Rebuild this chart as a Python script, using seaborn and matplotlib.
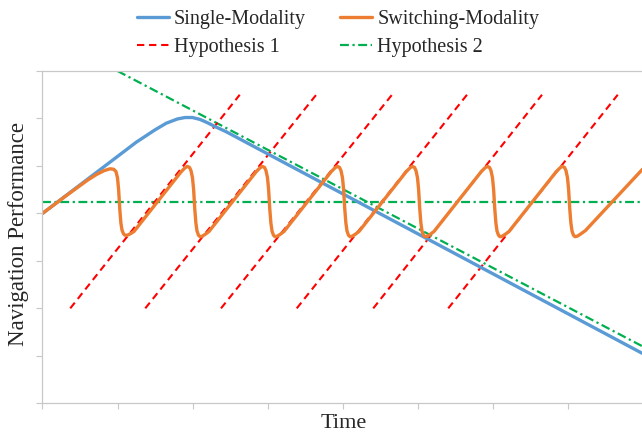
import pandas as pd
import matplotlib.pyplot as plt
import seaborn as sns
from matplotlib.lines import Line2D

# Single-Modality
single_x = [0.0, 0.25, 0.5, 0.75, 1.0, 1.25, 1.5, 1.65, 1.8, 1.9, 2.0, 2.1, 2.2, 2.3, 2.45, 8.0]
single_y = [4.0, 4.3, 4.6, 4.9, 5.2, 5.5, 5.76, 5.9, 5.99, 6.02, 6.02, 5.98, 5.91, 5.83, 5.72, 1.05]

# Switching-Modality sawtooth
switch_x = [0.0, 0.33, 0.6, 0.72, 0.82, 0.9, 0.95, 0.98, 1.0, 1.015, 1.03, 1.045, 1.06, 1.08, 1.1, 1.13, 1.17, 1.22,
            1.85, 1.9, 1.93, 1.96, 1.98, 2.0, 2.015, 2.03, 2.045, 2.06, 2.08, 2.1, 2.13, 2.17, 2.22,
            2.85, 2.9, 2.93, 2.96, 2.98, 3.0, 3.015, 3.03, 3.045, 3.06, 3.08, 3.1, 3.13, 3.17, 3.22,
            3.85, 3.9, 3.93, 3.96, 3.98, 4.0, 4.015, 4.03, 4.045, 4.06, 4.08, 4.1, 4.13, 4.17, 4.22,
            4.85, 4.9, 4.93, 4.96, 4.98, 5.0, 5.015, 5.03, 5.045, 5.06, 5.08, 5.1, 5.13, 5.17, 5.22,
            5.85, 5.9, 5.93, 5.96, 5.98, 6.0, 6.015, 6.03, 6.045, 6.06, 6.08, 6.1, 6.13, 6.17, 6.22,
            6.85, 6.9, 6.93, 6.96, 6.98, 7.0, 7.015, 7.03, 7.045, 7.06, 7.08, 7.1, 7.13, 7.17, 7.24,
            8.0]
switch_y = [4.0, 4.39, 4.7, 4.82, 4.9, 4.94, 4.93, 4.88, 4.75, 4.5, 4.1, 3.8, 3.65, 3.57, 3.54, 3.54, 3.57, 3.62,
            4.88, 4.96, 4.99, 4.97, 4.9, 4.75, 4.5, 4.1, 3.8, 3.63, 3.54, 3.51, 3.52, 3.56, 3.62,
            4.88, 4.96, 4.99, 4.97, 4.9, 4.75, 4.5, 4.1, 3.8, 3.63, 3.54, 3.51, 3.52, 3.56, 3.62,
            4.88, 4.96, 4.99, 4.97, 4.9, 4.75, 4.5, 4.1, 3.8, 3.63, 3.54, 3.51, 3.52, 3.56, 3.62,
            4.88, 4.96, 4.99, 4.97, 4.9, 4.75, 4.5, 4.1, 3.8, 3.63, 3.54, 3.51, 3.52, 3.56, 3.62,
            4.88, 4.96, 4.99, 4.97, 4.9, 4.75, 4.5, 4.1, 3.8, 3.63, 3.54, 3.51, 3.52, 3.56, 3.62,
            4.88, 4.96, 4.99, 4.97, 4.9, 4.75, 4.5, 4.1, 3.8, 3.63, 3.54, 3.51, 3.52, 3.56, 3.64,
            4.93]

# Hypothesis 1: parallel red dashed segments
hyp1_start_x = [0.37, 1.37, 2.38, 3.39, 4.41, 5.41]
hyp1_end_x = [2.63, 3.65, 4.66, 5.66, 6.66, 7.67]
hyp1_y = [2.0, 6.5]

# Hypothesis 2: flat line and declining line
hyp2_flat_x = [0.0, 8.0]
hyp2_flat_y = [4.25, 4.25]
hyp2_diag_x = [1.0, 8.0]
hyp2_diag_y = [7.0, 1.2]

sns.set_style("white")
plt.rcParams['font.family'] = ['Liberation Serif', 'DejaVu Serif']

df_single = pd.DataFrame({'x': single_x, 'y': single_y})
df_switch = pd.DataFrame({'x': switch_x, 'y': switch_y})
rows = []
for i, (a, b) in enumerate(zip(hyp1_start_x, hyp1_end_x)):
    rows.append({'line': i, 'x': a, 'y': hyp1_y[0]})
    rows.append({'line': i, 'x': b, 'y': hyp1_y[1]})
df_h1 = pd.DataFrame(rows)
df_h2 = pd.DataFrame({'line': [0, 0, 1, 1],
                      'x': hyp2_flat_x + hyp2_diag_x,
                      'y': hyp2_flat_y + hyp2_diag_y})

fig = plt.figure(figsize=(6.42, 4.37), dpi=100)
ax = fig.add_axes([42.5 / 642, 33.7 / 437, 600 / 642, 332.3 / 437])

red_ls = (0, (3.5, 2.3))
green_ls = (0, (4, 1.6, 1, 1.6))

sns.lineplot(data=df_h2, x='x', y='y', units='line', estimator=None, sort=False,
             color='#00B050', lw=1.6, linestyle=green_ls, ax=ax)
sns.lineplot(data=df_h1, x='x', y='y', units='line', estimator=None, sort=False,
             color='#FF0000', lw=1.5, linestyle=red_ls, ax=ax)
sns.lineplot(data=df_single, x='x', y='y', estimator=None, sort=False,
             color='#5B9BD5', lw=2.4, ax=ax)
sns.lineplot(data=df_switch, x='x', y='y', estimator=None, sort=False,
             color='#ED7D31', lw=2.4, ax=ax)

ax.set_xlim(0, 8)
ax.set_ylim(0, 7)
ax.set_xticks(range(0, 9))
ax.set_yticks(range(0, 8))
ax.set_xticklabels([])
ax.set_yticklabels([])
ax.set_xlabel('')
ax.set_ylabel('')
ax.tick_params(axis='both', direction='out', length=4, width=0.8, color='#C8C8C8',
               bottom=True, left=True)
for side in ['left', 'bottom', 'top']:
    ax.spines[side].set_color('#C8C8C8')
    ax.spines[side].set_linewidth(0.9)
ax.spines['right'].set_visible(False)
if ax.get_legend() is not None:
    ax.get_legend().remove()

fig.text(19 / 642, 1 - 234.5 / 437, 'Navigation Performance', rotation=90,
         ha='center', va='center', fontsize=16.5)
fig.text(344 / 642, 1 - 423 / 437, 'Time', ha='center', va='center', fontsize=16)

handles = [
    Line2D([], [], color='#5B9BD5', lw=2.4),
    Line2D([], [], color='#FF0000', lw=1.5, linestyle=red_ls),
    Line2D([], [], color='#ED7D31', lw=2.4),
    Line2D([], [], color='#00B050', lw=1.6, linestyle=green_ls),
]
labels = ['Single-Modality', 'Hypothesis 1', 'Switching-Modality', 'Hypothesis 2']
fig.legend(handles, labels, ncol=2, loc='center', bbox_to_anchor=(338 / 642, 1 - 33.5 / 437),
           frameon=False, fontsize=14.5, handlelength=1.6, handletextpad=0.25,
           columnspacing=1.7, labelspacing=0.45)

fig.savefig('out.png', dpi=100)
